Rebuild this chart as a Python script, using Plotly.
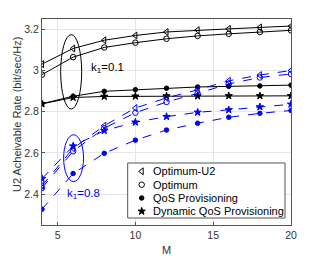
import plotly.graph_objects as go

# ---- data ----
M = [4, 6, 8, 10, 12, 14, 16, 18, 20]
k01_opt_u2 = [3.031, 3.107, 3.147, 3.170, 3.187, 3.196, 3.202, 3.209, 3.216]
k01_opt = [2.980, 3.065, 3.112, 3.135, 3.154, 3.168, 3.178, 3.187, 3.195]
k01_qos = [2.839, 2.875, 2.899, 2.907, 2.914, 2.920, 2.923, 2.925, 2.929]
k01_dyn = [2.838, 2.869, 2.874, 2.875, 2.876, 2.876, 2.877, 2.877, 2.877]
k08_opt_u2 = [2.440, 2.622, 2.732, 2.818, 2.867, 2.906, 2.950, 2.978, 3.000]
k08_opt = [2.430, 2.608, 2.720, 2.795, 2.847, 2.889, 2.935, 2.966, 2.983]
k08_qos = [2.327, 2.500, 2.598, 2.662, 2.711, 2.744, 2.773, 2.792, 2.806]
k08_dyn = [2.475, 2.633, 2.708, 2.749, 2.776, 2.797, 2.809, 2.823, 2.836]

legend_names = ["Optimum-U2", "Optimum", "QoS Provisioning", "Dynamic QoS Provisioning"]
symbols = ["triangle-left-open", "circle-open", "circle", "star"]
sizes = [6, 5.5, 4.5, 5.5]
x_ticks = [5, 10, 15, 20]
y_ticks = [2.4, 2.6, 2.8, 3.0, 3.2]
y_tick_text = ["2.4", "2.6", "2.8", "3", "3.2"]
X_RANGE = [4, 20]
Y_RANGE = [2.25, 3.25]
Y_TITLE = "U2 Acheivable Rate (bit/sec/Hz)"
X_TITLE = "M"

BLUE = "#0000ff"
BLACK = "#000000"
TXT = "#333333"
W, H = 322, 256
ML, MR, MT, MB = 42, 31, 19, 31


def px_to_x(px):
    return X_RANGE[0] + (px - ML) / (W - ML - MR) * (X_RANGE[1] - X_RANGE[0])


def px_to_y(py):
    return Y_RANGE[1] - (py - MT) / (H - MT - MB) * (Y_RANGE[1] - Y_RANGE[0])


fig = go.Figure()

black_series = [k01_opt_u2, k01_opt, k01_qos, k01_dyn]
blue_series = [k08_opt_u2, k08_opt, k08_qos, k08_dyn]

for name, ys, sym, sz in zip(legend_names, black_series, symbols, sizes):
    fig.add_trace(go.Scatter(x=M, y=ys, mode="lines+markers", name=name, showlegend=False,
                             line=dict(color=BLACK, width=1),
                             marker=dict(symbol=sym, size=sz, color=BLACK,
                                         line=dict(color=BLACK, width=1))))
for name, ys, sym, sz in zip(legend_names, blue_series, symbols, sizes):
    fig.add_trace(go.Scatter(x=M, y=ys, mode="lines+markers", name=name, showlegend=False,
                             line=dict(color=BLUE, width=1, dash="dash"),
                             marker=dict(symbol=sym, size=sz, color=BLUE,
                                         line=dict(color=BLUE, width=1))))

# ellipses (data coords)
ell_k01 = dict(x0=5.2, x1=6.55, y0=2.813, y1=3.174)
ell_k08 = dict(x0=5.39, x1=6.67, y0=2.461, y1=2.688)
fig.add_shape(type="circle", xref="x", yref="y", line=dict(color=BLACK, width=1), **ell_k01)
fig.add_shape(type="circle", xref="x", yref="y", line=dict(color=BLUE, width=1), **ell_k08)

fig.add_annotation(x=7.0, y=3.011, xref="x", yref="y", text="k<sub>1</sub>=0.1",
                   showarrow=False, xanchor="left", yanchor="middle",
                   font=dict(size=11.5, color=BLACK, family="Liberation Sans"))
fig.add_annotation(x=5.5, y=2.401, xref="x", yref="y", text="k<sub>1</sub>=0.8",
                   showarrow=False, xanchor="left", yanchor="middle",
                   font=dict(size=11.5, color=BLUE, family="Liberation Sans"))

# manual legend (box, marker samples, labels), placed by pixel position
leg_left, leg_right, leg_top, leg_bottom = 127.7, 285, 163, 218
row_centers = [171.3, 184.7, 198.0, 211.3]
leg_marker_x = 141.7
leg_text_x = 150.5
fig.add_shape(type="rect", xref="x", yref="y",
              x0=px_to_x(leg_left), x1=px_to_x(leg_right),
              y0=px_to_y(leg_bottom), y1=px_to_y(leg_top),
              line=dict(color="#555555", width=1), fillcolor="white", layer="between")
for name, sym, sz, rc in zip(legend_names, symbols, sizes, row_centers):
    fig.add_trace(go.Scatter(x=[px_to_x(leg_marker_x)], y=[px_to_y(rc)],
                             mode="markers", showlegend=False, hoverinfo="skip",
                             marker=dict(symbol=sym, size=sz, color=BLACK,
                                         line=dict(color=BLACK, width=1))))
    fig.add_annotation(x=px_to_x(leg_text_x), y=px_to_y(rc), xref="x", yref="y",
                       text=name, showarrow=False, xanchor="left", yanchor="middle",
                       font=dict(size=11, color=BLACK, family="Liberation Sans"))

# axis titles as positioned text
fig.add_annotation(x=(16.5 - ML) / (W - ML - MR), y=1 - (114.5 - MT) / (H - MT - MB),
                   xref="paper", yref="paper", text=Y_TITLE, textangle=-90,
                   showarrow=False, xanchor="center", yanchor="middle",
                   font=dict(size=11, color=TXT, family="Liberation Sans"))
fig.add_annotation(x=0.5, y=1 - (249.5 - MT) / (H - MT - MB),
                   xref="paper", yref="paper", text=X_TITLE,
                   showarrow=False, xanchor="center", yanchor="middle",
                   font=dict(size=11, color=TXT, family="Liberation Sans"))

axis_common = dict(showgrid=True, gridcolor="#e6e6e6", gridwidth=1,
                   showline=True, linecolor="#555555", linewidth=1, mirror=True,
                   ticks="inside", ticklen=3, tickcolor="#555555", automargin=False,
                   tickfont=dict(size=10.5, color=TXT, family="Liberation Sans"),
                   zeroline=False)

fig.update_layout(
    width=W, height=H,
    margin=dict(l=ML, r=MR, t=MT, b=MB),
    plot_bgcolor="white", paper_bgcolor="white",
    showlegend=False,
    font=dict(family="Liberation Sans", size=11, color=TXT),
    xaxis=dict(range=X_RANGE, tickvals=x_ticks, **axis_common),
    yaxis=dict(range=Y_RANGE, tickvals=y_ticks, ticktext=y_tick_text, **axis_common),
)

fig.write_html("out.html", config={"displayModeBar": False},
               post_script="document.body.style.margin='0px';")
